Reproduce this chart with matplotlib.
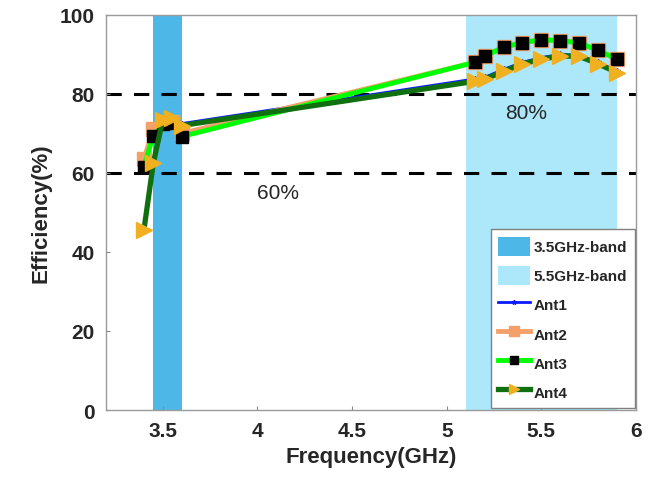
import matplotlib.pyplot as plt
import numpy as np

plt.rcParams.update({
    'font.family': ['Liberation Sans', 'DejaVu Sans'],
    'font.weight': 'bold',
    'axes.labelweight': 'bold',
})

# frequency points (GHz)
freq = [3.4, 3.45, 3.5, 3.55, 3.6,
        5.15, 5.2, 5.3, 5.4, 5.5, 5.6, 5.7, 5.8, 5.9]

# efficiency (%) per antenna
ant1 = [45.5, 62.5, 73.0, 73.5, 72.5,
        83.8, 84.2, 86.2, 88.0, 89.2, 90.0, 89.8, 88.0, 85.8]
ant2 = [63.5, 71.0, 73.0, 73.0, 70.0,
        88.0, 89.6, 91.8, 93.0, 93.7, 93.5, 92.9, 91.0, 88.8]
ant3 = [61.6, 69.4, 72.5, 72.7, 69.2,
        88.0, 89.6, 91.8, 93.0, 93.7, 93.5, 92.9, 91.0, 88.8]
ant4 = [45.5, 62.5, 73.5, 74.0, 72.0,
        83.2, 83.7, 85.7, 87.6, 88.8, 89.6, 89.5, 87.6, 85.4]

band35 = (3.45, 3.6)
band55 = (5.1, 5.9)
ref_levels = [80, 60]
ref_labels = ['80%', '60%']


def plot_data():
    fig = plt.figure(figsize=(6.56, 4.89), dpi=100)
    ax = fig.add_axes([0.1616, 0.1595, 0.808, 0.808])

    ax.axvspan(*band35, color='#4db8e8', lw=0, label='3.5GHz-band', zorder=0)
    ax.axvspan(*band55, color='#ade8fa', lw=0, label='5.5GHz-band', zorder=0)

    for lvl in ref_levels:
        ax.axhline(lvl, color='black', ls=(0, (5, 4)), lw=2.2, zorder=1)

    ax.plot(freq, ant1, '-', color='#0a1aff', lw=2.0, marker='*',
            ms=5, label='Ant1', zorder=3)
    ax.plot(freq, ant2, '-', color='#f4a06a', lw=3.5, marker='s', ms=10,
            mfc='#f4a06a', mec='#f4a06a', label='Ant2', zorder=4)
    ax.plot(freq, ant3, '-', color='#00ff00', lw=3.5, marker='s', ms=8,
            mfc='black', mec='black', label='Ant3', zorder=5)
    ax.plot(freq, ant4, '-', color='#107010', lw=3.8, marker='>', ms=12,
            mfc='#f0b020', mec='#f0b020', label='Ant4', zorder=6)

    ax.text(5.42, 75.2, ref_labels[0], fontsize=15, fontweight='normal',
            ha='center', va='center', color='#262626')
    ax.text(4.11, 55.0, ref_labels[1], fontsize=15, fontweight='normal',
            ha='center', va='center', color='#262626')

    ax.set_xlim(3.2, 6)
    ax.set_ylim(0, 100)
    ax.set_xticks([3.5, 4, 4.5, 5, 5.5, 6])
    ax.set_xticklabels(['3.5', '4', '4.5', '5', '5.5', '6'])
    ax.set_yticks([0, 20, 40, 60, 80, 100])
    ax.tick_params(direction='in', length=3, width=0.8, color='#888888',
                   labelsize=15, labelcolor='#262626', pad=8)
    for s in ax.spines.values():
        s.set_color('#9a9a9a')
        s.set_linewidth(1.0)

    ax.set_xlabel('Frequency(GHz)', fontsize=16, color='#262626', labelpad=4)
    ax.set_ylabel('Efficiency(%)', fontsize=16, color='#262626', labelpad=6)

    leg = ax.legend(loc='lower right', fontsize=11, frameon=True, fancybox=False,
                    edgecolor='#808080', framealpha=1, borderpad=0.5,
                    labelspacing=0.68, handlelength=2.1, handleheight=1.5,
                    handletextpad=0.2, borderaxespad=0.1, markerscale=0.65)
    leg.get_frame().set_linewidth(1.0)
    for t in leg.get_texts():
        t.set_fontweight('bold')
        t.set_color('#262626')

    fig.savefig('out.png', dpi=100)
    plt.close(fig)


if __name__ == '__main__':
    plot_data()
